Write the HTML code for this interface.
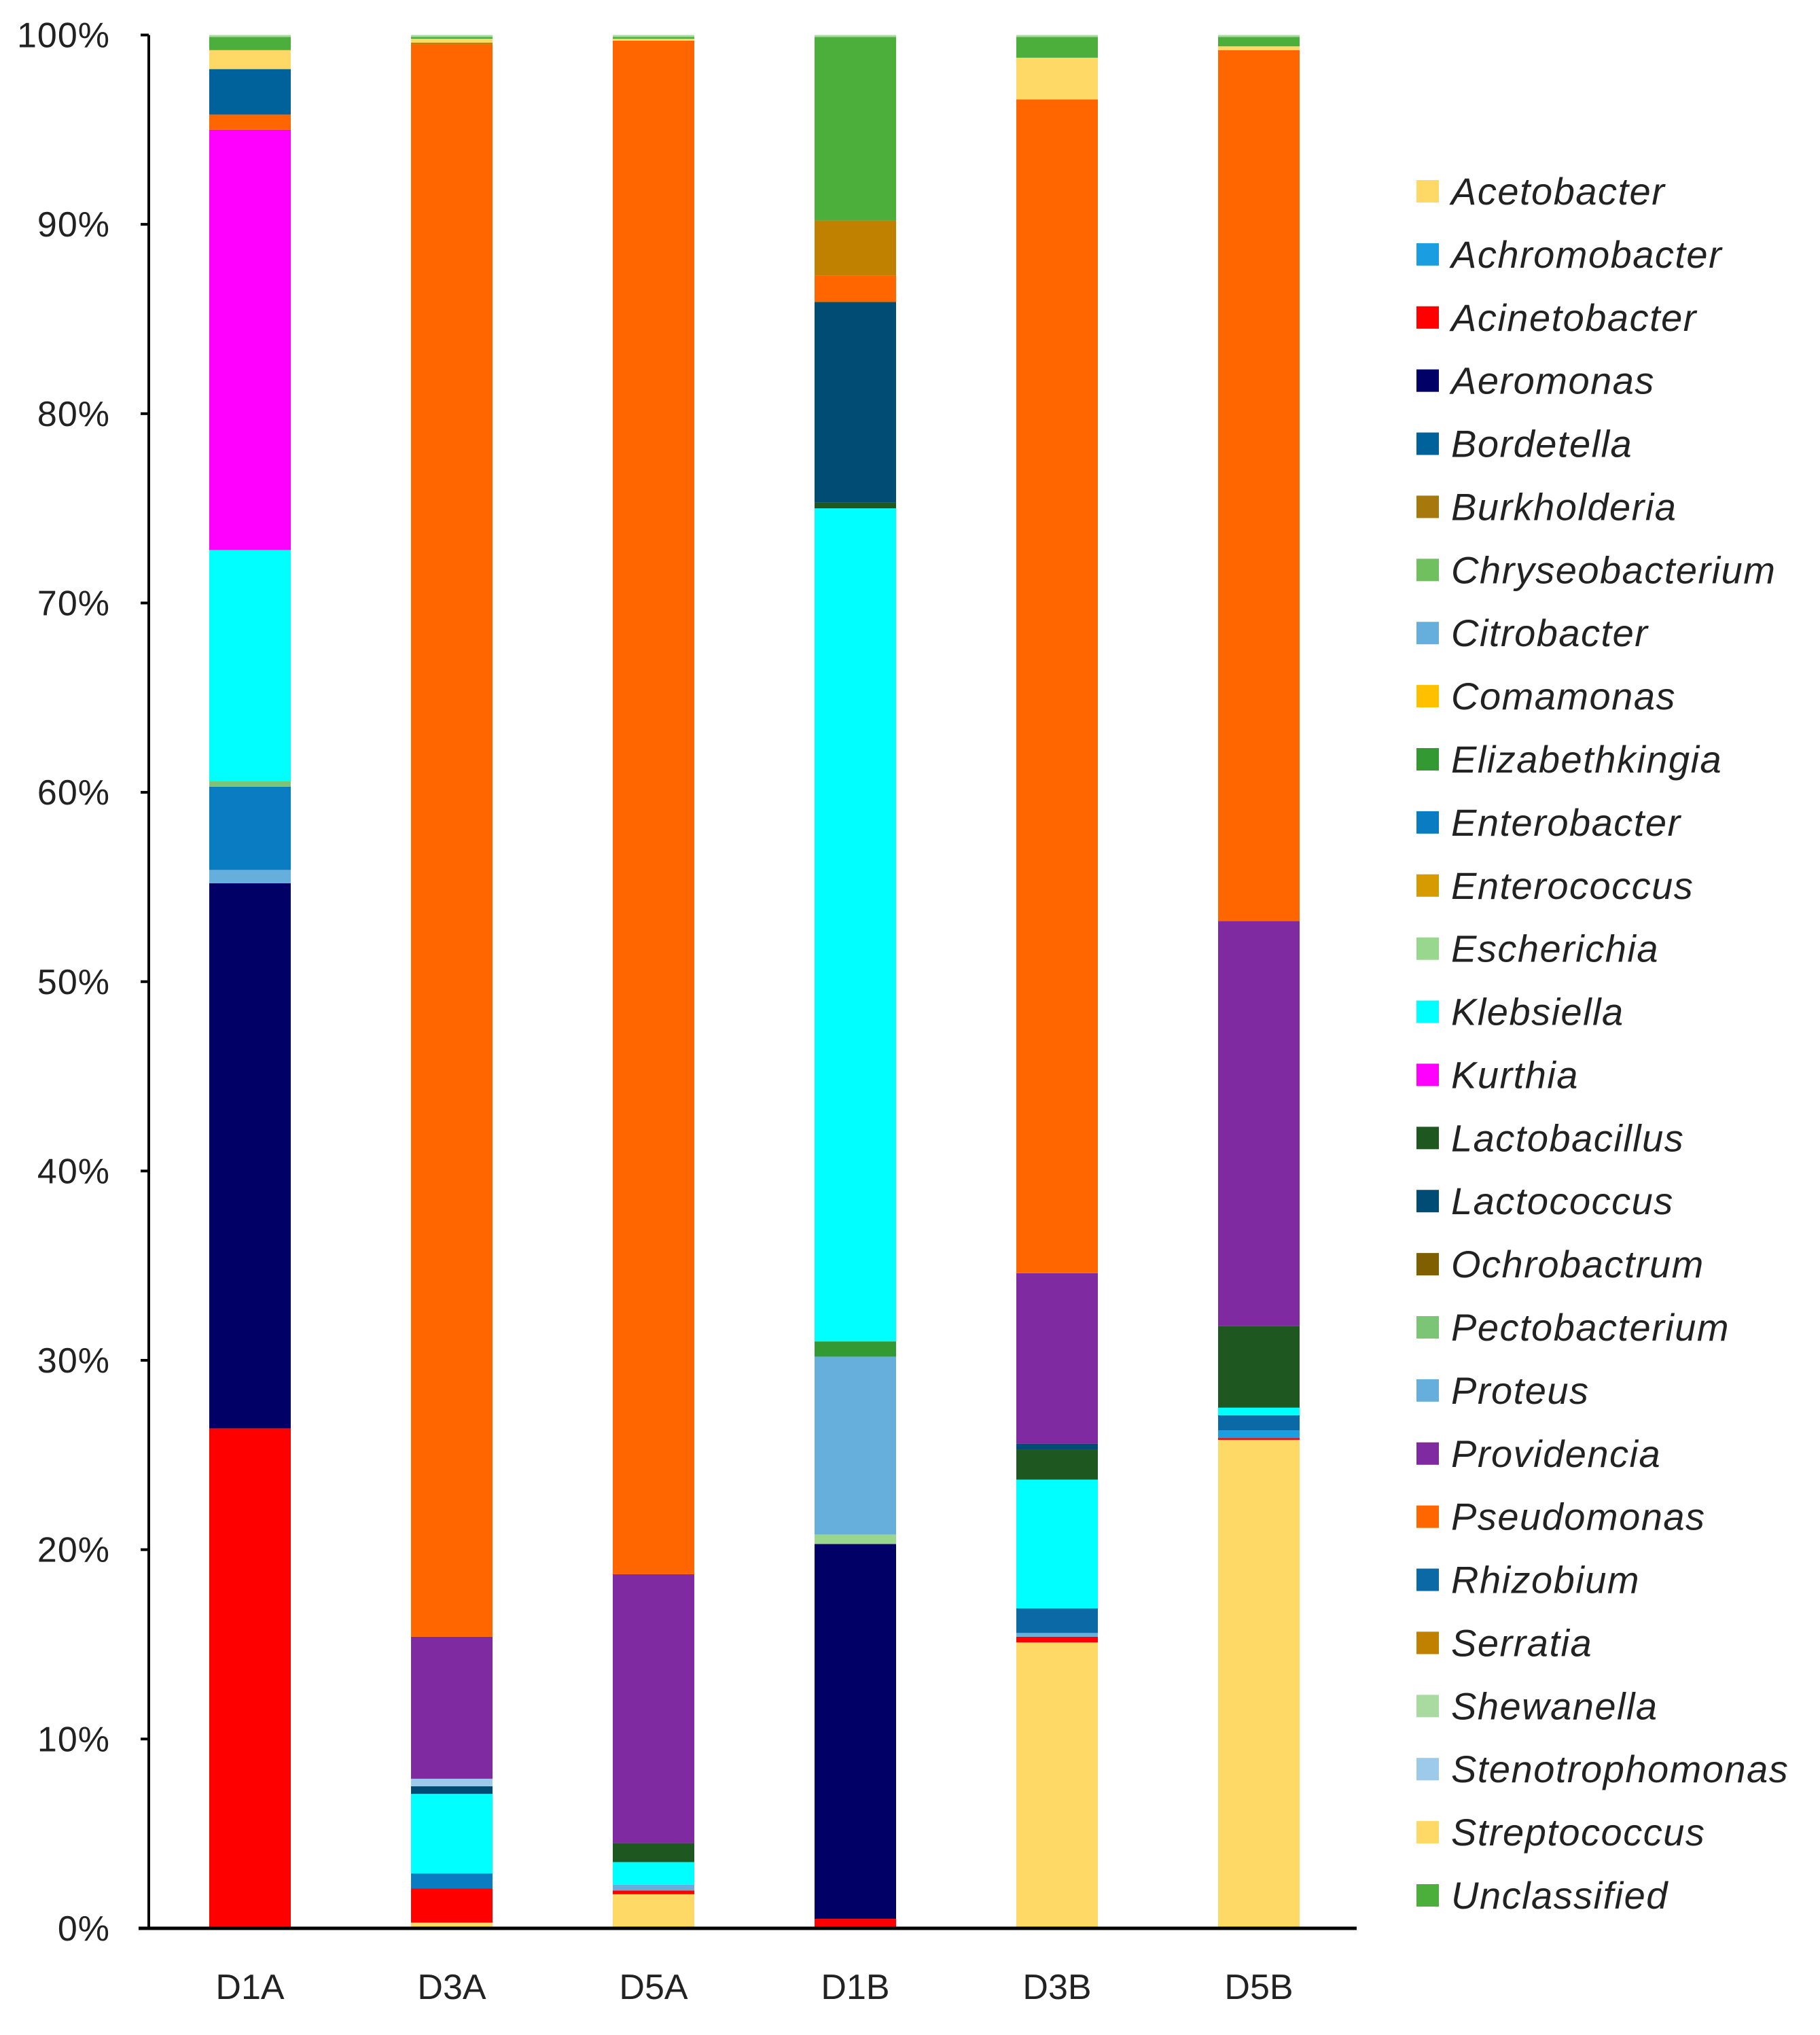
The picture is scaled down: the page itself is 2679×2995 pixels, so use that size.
<!DOCTYPE html>
<html><head><meta charset="utf-8">
<style>
html,body{margin:0;padding:0;background:#fff;}
svg{display:block;font-family:"Liberation Sans",sans-serif;}
</style></head>
<body>
<svg id="chart" width="2679" height="2995" viewBox="0 0 2679 2995" xmlns="http://www.w3.org/2000/svg">
<g id="bars"></g>
<g id="axes"></g>
<g id="legend"></g>
</svg>
<script>
const categories = ["D1A","D3A","D5A","D1B","D3B","D5B"];
const yTicks = [0,10,20,30,40,50,60,70,80,90,100];
const yTickLabels = ["0%","10%","20%","30%","40%","50%","60%","70%","80%","90%","100%"];
// stack order bottom -> top
const stackOrder = ["Streptococcus","Acinetobacter","Aeromonas","Escherichia","Citrobacter","Achromobacter","Enterobacter","Rhizobium","Elizabethkingia","Pectobacterium","Klebsiella","Kurthia","Lactobacillus","Lactococcus","Stenotrophomonas","Providencia","Pseudomonas","Bordetella","Serratia","Acetobacter","Unclassified","Shewanella"];
const Streptococcus   = [0, 0.3, 1.8, 0, 15.1, 25.8];
const Acinetobacter   = [26.4, 1.8, 0.2, 0.5, 0.3, 0.1];
const Aeromonas       = [28.8, 0, 0, 19.8, 0, 0];
const Escherichia     = [0, 0, 0, 0.5, 0, 0];
const Citrobacter     = [0.7, 0, 0.3, 9.4, 0.2, 0];
const Achromobacter   = [0, 0, 0, 0, 0, 0.4];
const Enterobacter    = [4.4, 0.8, 0, 0, 0, 0];
const Rhizobium       = [0, 0, 0, 0, 1.3, 0.8];
const Elizabethkingia = [0, 0, 0, 0.8, 0, 0];
const Pectobacterium  = [0.3, 0, 0, 0, 0, 0];
const Klebsiella      = [12.2, 4.2, 1.2, 44.0, 6.8, 0.4];
const Kurthia         = [22.2, 0, 0, 0, 0, 0];
const Lactobacillus   = [0, 0, 1.0, 0.3, 1.6, 4.3];
const Lactococcus     = [0, 0.4, 0, 10.6, 0.3, 0];
const Stenotrophomonas= [0, 0.4, 0, 0, 0, 0];
const Providencia     = [0, 7.5, 14.2, 0, 9.0, 21.4];
const Pseudomonas     = [0.8, 84.1, 81.0, 1.4, 62.0, 46.0];
const Bordetella      = [2.4, 0, 0, 0, 0, 0];
const Serratia        = [0, 0.1, 0, 2.9, 0, 0];
const Acetobacter     = [1.0, 0.2, 0.1, 0, 2.2, 0.2];
const Unclassified    = [0.7, 0.1, 0.1, 9.7, 1.1, 0.5];
const Shewanella      = [0.1, 0.1, 0.1, 0.1, 0.1, 0.1];
const seriesValues = {Streptococcus,Acinetobacter,Aeromonas,Escherichia,Citrobacter,Achromobacter,Enterobacter,Rhizobium,Elizabethkingia,Pectobacterium,Klebsiella,Kurthia,Lactobacillus,Lactococcus,Stenotrophomonas,Providencia,Pseudomonas,Bordetella,Serratia,Acetobacter,Unclassified,Shewanella};
const legendNames = ["Acetobacter","Achromobacter","Acinetobacter","Aeromonas","Bordetella","Burkholderia","Chryseobacterium","Citrobacter","Comamonas","Elizabethkingia","Enterobacter","Enterococcus","Escherichia","Klebsiella","Kurthia","Lactobacillus","Lactococcus","Ochrobactrum","Pectobacterium","Proteus","Providencia","Pseudomonas","Rhizobium","Serratia","Shewanella","Stenotrophomonas","Streptococcus","Unclassified"];
const colors = {Acetobacter:"#ffd966",Achromobacter:"#1b9de2",Acinetobacter:"#ff0000",Aeromonas:"#000066",Bordetella:"#00629b",Burkholderia:"#a6790c",Chryseobacterium:"#70c060",Citrobacter:"#66aedc",Comamonas:"#ffc000",Elizabethkingia:"#339933",Enterobacter:"#0a7cc1",Enterococcus:"#d59b00",Escherichia:"#99d68e",Klebsiella:"#00ffff",Kurthia:"#ff00ff",Lactobacillus:"#1e5820",Lactococcus:"#004c74",Ochrobactrum:"#7f5f00",Pectobacterium:"#7cc576",Proteus:"#66aedc",Providencia:"#7f2aa0",Pseudomonas:"#ff6600",Rhizobium:"#0b6aa5",Serratia:"#c08000",Shewanella:"#a9dba0",Stenotrophomonas:"#9dc9ea",Streptococcus:"#ffd966",Unclassified:"#4caf3c"};

const NS="http://www.w3.org/2000/svg";
const X0=219, X1=1997, Y0=2838, Y1=51.5, BW=120;
const yScale = v => Y0 - (v/100)*(Y0-Y1);
const xCenter = i => 368 + i*297;
function mk(tag, attrs, parent){const e=document.createElementNS(NS,tag);for(const k in attrs)e.setAttribute(k,attrs[k]);parent.appendChild(e);return e;}

const gb=document.getElementById('bars');
categories.forEach((c,i)=>{
  let cum=0;
  stackOrder.forEach(s=>{
    const v=seriesValues[s][i];
    if(v<=0) return;
    const yt=yScale(cum+v), yb=yScale(cum);
    const r=mk('rect',{x:xCenter(i)-BW/2,y:yt,width:BW,height:yb-yt,fill:colors[s]},gb);
    
    
    cum+=v;
  });
});

const ga=document.getElementById('axes');
const yl=mk('line',{x1:X0,y1:Y1,x2:X0,y2:Y0,stroke:'#000','stroke-width':4},ga);


const xl=mk('line',{x1:X0-15,y1:Y0,x2:X1,y2:Y0,stroke:'#000','stroke-width':5},ga);


yTicks.forEach((t,i)=>{
  const tk=mk('line',{x1:X0-12,y1:yScale(t),x2:X0,y2:yScale(t),stroke:'#000','stroke-width':4},ga);
  
  
  const tx=mk('text',{x:162,y:yScale(t)+18,'text-anchor':'end','font-size':52,'letter-spacing':1,fill:'#222'},ga);
  tx.textContent=yTickLabels[i];
  
  
});
categories.forEach((c,i)=>{
  const tx=mk('text',{x:xCenter(i),y:2942,'text-anchor':'middle','font-size':52,fill:'#222'},ga);
  tx.textContent=c;
  
  
});

const gl=document.getElementById('legend');
legendNames.forEach((n,i)=>{
  const y=282 + i*((2790-282)/27);
  const g=mk('g',{},gl);
  
  
  mk('rect',{x:2085,y:y-17,width:33,height:33,fill:colors[n]},g);
  const tx=mk('text',{x:2136,y:y+19,'font-size':56,'font-style':'italic','letter-spacing':1.5,fill:'#222'},g);
  tx.textContent=n;
});
</script>
</body></html>
